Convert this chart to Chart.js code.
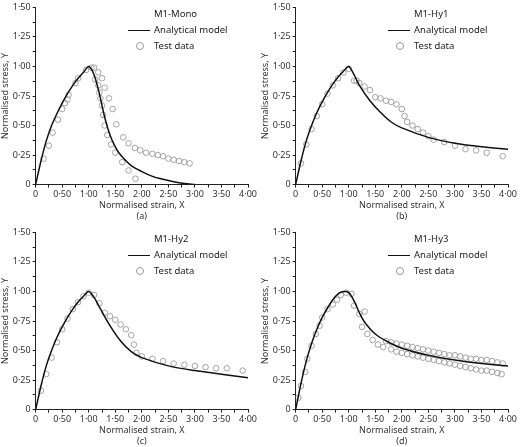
<!DOCTYPE html>
<html><head><meta charset="utf-8">
<script src="https://cdn.jsdelivr.net/npm/chart.js@4"></script>
<style>
body{margin:0;background:#fff;font-family:"Noto Sans",sans-serif;}
.p{position:absolute;width:260px;height:222px;}
.lg{position:absolute;font-size:9.5px;color:#222;line-height:16px;}
.ln{display:inline-block;width:22px;border-top:1.5px solid #111;vertical-align:middle;margin-right:4px;}
.ci{display:inline-block;width:6px;height:6px;border:1px solid #999;border-radius:50%;margin:0 10px 0 8px;vertical-align:middle;}
</style></head><body>
<script>
// panel names and captions
const names = ["M1-Mono", "M1-Hy1", "M1-Hy2", "M1-Hy3"];
const captions = ["(a)", "(b)", "(c)", "(d)"];

// analytical model curves [x, y]
const modelA = [[0,0],[0.1,0.2],[0.2,0.37],[0.3,0.5],[0.4,0.6],[0.5,0.69],[0.6,0.77],[0.7,0.84],[0.8,0.9],[0.9,0.95],[1.0,1.0],[1.1,0.93],[1.2,0.77],[1.3,0.57],[1.4,0.42],[1.5,0.32],[1.6,0.25],[1.8,0.16],[2.0,0.11],[2.2,0.07],[2.4,0.045],[2.6,0.025],[2.8,0.01],[3.0,0]];
const modelB = [[0,0],[0.1,0.2],[0.2,0.37],[0.3,0.5],[0.4,0.61],[0.5,0.7],[0.6,0.78],[0.7,0.85],[0.8,0.91],[0.9,0.96],[1.0,1.0],[1.1,0.93],[1.2,0.84],[1.4,0.71],[1.6,0.61],[1.8,0.53],[2.0,0.48],[2.5,0.4],[3.0,0.35],[3.5,0.32],[4.0,0.3]];
const modelC = [[0,0],[0.1,0.2],[0.2,0.37],[0.3,0.5],[0.4,0.61],[0.5,0.7],[0.6,0.78],[0.7,0.85],[0.8,0.91],[0.9,0.96],[1.0,1.0],[1.1,0.95],[1.2,0.87],[1.4,0.71],[1.6,0.58],[1.8,0.49],[2.0,0.44],[2.5,0.37],[3.0,0.33],[3.5,0.3],[4.0,0.27]];
const modelD = [[0,0],[0.1,0.22],[0.2,0.41],[0.3,0.56],[0.4,0.68],[0.5,0.78],[0.6,0.86],[0.7,0.93],[0.8,0.98],[0.9,1.0],[1.0,0.99],[1.1,0.92],[1.2,0.82],[1.3,0.74],[1.5,0.64],[1.75,0.57],[2.0,0.52],[2.5,0.46],[3.0,0.42],[3.5,0.39],[4.0,0.37]];

// test data [x, y]
const testA = [[0.15,0.22],[0.25,0.33],[0.32,0.44],[0.42,0.55],[0.5,0.64],[0.55,0.69],[0.6,0.72],[0.62,0.76],[0.75,0.86],[0.8,0.9],[0.95,0.97],[1.05,0.99],[1.1,0.99],[1.12,0.89],[1.18,0.95],[1.18,0.84],[1.2,0.78],[1.22,0.73],[1.25,0.67],[1.27,0.59],[1.3,0.5],[1.35,0.42],[1.42,0.34],[1.5,0.27],[1.63,0.19],[1.75,0.12],[1.88,0.05],[1.25,0.9],[1.3,0.82],[1.38,0.73],[1.45,0.64],[1.52,0.51],[1.65,0.4],[1.75,0.35],[1.87,0.31],[1.97,0.29],[2.08,0.27],[2.2,0.26],[2.3,0.25],[2.4,0.24],[2.5,0.22],[2.6,0.21],[2.7,0.2],[2.8,0.19],[2.9,0.18]];
const testB = [[0.1,0.18],[0.2,0.34],[0.3,0.47],[0.4,0.58],[0.5,0.68],[0.6,0.77],[0.7,0.84],[0.8,0.9],[0.9,0.95],[1.0,0.98],[1.1,0.88],[1.15,0.88],[1.2,0.86],[1.3,0.83],[1.4,0.8],[1.5,0.74],[1.6,0.73],[1.7,0.71],[1.8,0.7],[1.9,0.68],[2.0,0.64],[2.05,0.58],[2.1,0.53],[2.2,0.5],[2.3,0.47],[2.4,0.44],[2.5,0.41],[2.6,0.38],[2.8,0.36],[3.0,0.33],[3.2,0.3],[3.4,0.29],[3.6,0.27],[3.9,0.24]];
const testC = [[0.1,0.16],[0.2,0.3],[0.3,0.44],[0.4,0.57],[0.5,0.68],[0.6,0.77],[0.7,0.85],[0.8,0.91],[0.9,0.96],[1.0,0.99],[1.1,0.97],[1.2,0.9],[1.3,0.82],[1.4,0.79],[1.5,0.76],[1.6,0.72],[1.7,0.68],[1.8,0.63],[1.85,0.55],[1.9,0.48],[2.0,0.45],[2.2,0.43],[2.4,0.41],[2.6,0.39],[2.8,0.38],[3.0,0.37],[3.2,0.36],[3.4,0.35],[3.6,0.35],[3.9,0.33]];
const testD = [[0.05,0.1],[0.1,0.2],[0.18,0.32],[0.22,0.43],[0.3,0.54],[0.38,0.64],[0.45,0.71],[0.5,0.78],[0.6,0.85],[0.7,0.89],[0.78,0.93],[0.85,0.97],[0.95,0.99],[1.05,0.98],[1.1,0.88],[1.2,0.81],[1.3,0.83],[1.25,0.7],[1.35,0.64],[1.45,0.59],[1.55,0.55],[1.65,0.53],[1.8,0.51],[1.9,0.49],[2.0,0.48],[2.1,0.47],[2.2,0.46],[2.3,0.45],[2.4,0.44],[2.5,0.43],[2.6,0.42],[2.7,0.41],[2.8,0.4],[2.9,0.39],[3.0,0.38],[3.1,0.37],[3.2,0.36],[3.3,0.35],[3.4,0.34],[3.5,0.33],[3.6,0.33],[3.7,0.32],[3.8,0.31],[3.88,0.3],[1.7,0.58],[1.8,0.57],[1.9,0.56],[2.0,0.55],[2.1,0.54],[2.2,0.53],[2.3,0.52],[2.4,0.51],[2.5,0.5],[2.6,0.49],[2.7,0.48],[2.8,0.47],[2.9,0.46],[3.0,0.46],[3.1,0.45],[3.2,0.44],[3.3,0.43],[3.4,0.43],[3.5,0.42],[3.6,0.42],[3.7,0.41],[3.8,0.4],[3.9,0.39]];

const models = [modelA, modelB, modelC, modelD];
const tests = [testA, testB, testC, testD];
const xLabels = [0, 0.5, 1, 1.5, 2, 2.5, 3, 3.5, 4];
const yLabels = [0, 0.25, 0.5, 0.75, 1, 1.25, 1.5];

const fmt = v => v === 0 ? "0" : v.toFixed(2).replace(".", "·");
const pos = [[0,0],[260,0],[0,225],[260,225]];
const font = { family: "Noto Sans", size: 9 };

names.forEach((name, i) => {
  const div = document.createElement("div");
  div.className = "p";
  div.style.left = pos[i][0] + "px";
  div.style.top = pos[i][1] + "px";
  const cv = document.createElement("canvas");
  cv.width = 260; cv.height = 222;
  div.appendChild(cv);
  const lg = document.createElement("div");
  lg.className = "lg";
  lg.style.left = "128px";
  lg.style.top = "6px";
  lg.innerHTML = `<div style="padding-left:26px">${name}</div>
    <div><span class="ln"></span>Analytical model</div>
    <div><span class="ci"></span>Test data</div>`;
  div.appendChild(lg);
  document.body.appendChild(div);

  const axisGrid = { drawOnChartArea: false, color: "#222", tickLength: 3 };
  new Chart(cv, {
    type: "scatter",
    data: {
      datasets: [
        { data: models[i].map(p => ({ x: p[0], y: p[1] })), showLine: true, borderColor: "#111", borderWidth: 1.5, pointRadius: 0, tension: 0.3 },
        { data: tests[i].map(p => ({ x: p[0], y: p[1] })), pointRadius: 2.8, borderColor: "#9a9a9a", backgroundColor: "rgba(0,0,0,0)", borderWidth: 0.9 }
      ]
    },
    options: {
      responsive: false, animation: false,
      layout: { padding: { right: 12, top: 4 } },
      plugins: { legend: { display: false }, tooltip: { enabled: false } },
      scales: {
        x: {
          min: 0, max: 4,
          afterBuildTicks: ax => { ax.ticks = []; for (let k = 0; k <= 16; k++) ax.ticks.push({ value: k * 0.25 }); },
          ticks: { font, color: "#333", maxRotation: 0, autoSkip: false, padding: 1,
            callback: v => xLabels.some(l => Math.abs(l - v) < 1e-6) ? fmt(v) : "" },
          grid: axisGrid, border: { color: "#222" },
          title: { display: true, text: ["Normalised strain, X", captions[i]], font, color: "#333", padding: 0 }
        },
        y: {
          min: 0, max: 1.5,
          afterBuildTicks: ax => { ax.ticks = []; for (let k = 0; k <= 12; k++) ax.ticks.push({ value: k * 0.125 }); },
          ticks: { font, color: "#333", autoSkip: false, padding: 2,
            callback: v => yLabels.some(l => Math.abs(l - v) < 1e-6) ? fmt(v) : "" },
          grid: axisGrid, border: { color: "#222" },
          title: { display: true, text: "Normalised stress, Y", font, color: "#333", padding: 0 }
        }
      }
    }
  });
});
</script>
</body></html>
